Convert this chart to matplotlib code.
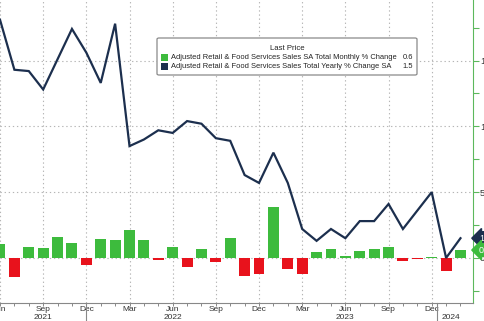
import matplotlib
matplotlib.use("Agg")
import matplotlib.pyplot as plt
from matplotlib.patches import Rectangle, FancyBboxPatch

# ---- data (Jun 2021 .. Feb 2024, monthly) ----
months = ["Jun 2021", "Jul 2021", "Aug 2021", "Sep 2021", "Oct 2021", "Nov 2021", "Dec 2021",
          "Jan 2022", "Feb 2022", "Mar 2022", "Apr 2022", "May 2022", "Jun 2022", "Jul 2022",
          "Aug 2022", "Sep 2022", "Oct 2022", "Nov 2022", "Dec 2022", "Jan 2023", "Feb 2023",
          "Mar 2023", "Apr 2023", "May 2023", "Jun 2023", "Jul 2023", "Aug 2023", "Sep 2023",
          "Oct 2023", "Nov 2023", "Dec 2023", "Jan 2024", "Feb 2024"]
mom = [1.07, -1.47, 0.86, 0.74, 1.62, 1.14, -0.53,
       1.45, 1.40, 2.13, 1.35, -0.15, 0.86, -0.66,
       0.71, -0.28, 1.55, -1.35, -1.22, 3.86, -0.84,
       -1.22, 0.48, 0.69, 0.15, 0.56, 0.71, 0.81,
       -0.23, -0.05, 0.05, -1.02, 0.6]
yoy = [18.1, 14.3, 14.2, 12.8, 15.1, 17.4, 15.6,
       13.3, 17.8, 8.5, 9.0, 9.7, 9.5, 10.4,
       10.2, 9.1, 8.9, 6.3, 5.7, 8.0, 5.7,
       2.2, 1.3, 2.2, 1.5, 2.8, 2.8, 4.1,
       2.2, 3.6, 5.0, 0.0, 1.5]
tick_idx = [0, 3, 6, 9, 12, 15, 18, 21, 24, 27, 30]
tick_labels = ["Jun", "Sep", "Dec", "Mar", "Jun", "Sep", "Dec", "Mar", "Jun", "Sep", "Dec"]
year_pos = [3, 12, 24, 31.35]
year_labels = ["2021", "2022", "2023", "2024"]
year_sep = [6, 30.35]
legend_labels = ["Adjusted Retail & Food Services Sales SA Total Monthly % Change",
                 "Adjusted Retail & Food Services Sales Total Yearly % Change SA"]
last_mom = "0.6"
last_yoy = "1.5"

GREEN = "#3dbb3d"
RED = "#e8121c"
NAVY = "#1c2f4e"
W, H = 485, 321
FONT = ["Liberation Sans", "DejaVu Sans"]

fig = plt.figure(figsize=(W / 100, H / 100), dpi=100)
fig.patch.set_facecolor("white")
ax = fig.add_axes([0, 1 - 302.7 / H, 473 / W, 302.7 / H])
ax.set_facecolor("white")

x = list(range(len(months)))
colors = [GREEN if v >= 0 else RED for v in mom]
ax.bar(x, mom, width=0.76, color=colors, zorder=2)
ax.plot(x, yoy, color=NAVY, lw=1.6, zorder=3, solid_joinstyle="miter")

ax.set_xlim(0.317, 32.87)
ax.set_ylim(-3.40, 19.6)

# grid
for t in tick_idx:
    ax.axvline(t, color="#b5b5b5", lw=0.8, ls=(0, (1.2, 2.5)), zorder=1)
for v in [0, 5, 10, 15]:
    ax.axhline(v, color="#b5b5b5", lw=0.8, ls=(0, (1.2, 2.5)), zorder=1)

# spines
for s in ["top", "left"]:
    ax.spines[s].set_visible(False)
ax.spines["right"].set_color("#5cb85c")
ax.spines["right"].set_linewidth(0.8)
ax.spines["bottom"].set_color("#888888")
ax.spines["bottom"].set_linewidth(0.8)

# y axis on right
ax.yaxis.tick_right()
ax.set_yticks([0, 5, 10, 15])
ax.set_yticks([-2.5, 2.5, 7.5, 12.5, 17.5], minor=True)
ax.set_yticklabels(["0", "5", "10", "15"], family=FONT, fontsize=6.8, color="#333333")
ax.tick_params(axis="y", which="both", direction="out", length=4, width=0.8,
               color="#5cb85c", pad=1)

# x axis
ax.set_xticks(x, minor=True)
ax.set_xticks(tick_idx)
ax.set_xticklabels(tick_labels, family=FONT, fontsize=6.0, color="#333333")
ax.tick_params(axis="x", which="both", direction="out", length=2, width=0.7,
               color="#888888", pad=0.3)
for xp, lab in zip(year_pos, year_labels):
    ax.text(xp, -0.036, lab, transform=ax.get_xaxis_transform(), ha="center", va="top",
            family=FONT, fontsize=6.0, color="#333333", clip_on=False)
for xs in year_sep:
    ax.plot([xs, xs], [0, -0.1], transform=ax.get_xaxis_transform(), color="#888888",
            lw=0.8, clip_on=False)

# last value badges
for val, yv, col in [(last_yoy, yoy[-1], NAVY), (last_mom, mom[-1], GREEN)]:
    ax.annotate(val, xy=(1.0, yv), xycoords=("axes fraction", "data"),
                xytext=(4.2, 0), textcoords="offset points", ha="left", va="center",
                fontsize=6.5, color="white", family=FONT,
                bbox=dict(boxstyle="larrow,pad=0.22", fc=col, ec=col), annotation_clip=False)

# legend box (manual, in pixel coords from top-left)
def fx(px):
    return px / W

def fy(py):
    return 1 - py / H

box = FancyBboxPatch((fx(157), fy(75)), fx(417) - fx(157), fy(38) - fy(75),
                     boxstyle="round,pad=0,rounding_size=0.004", transform=fig.transFigure,
                     fc="white", ec="#8a8a8a", lw=0.9, zorder=10)
fig.add_artist(box)
fig.text(fx(287), fy(48), "Last Price", ha="center", va="center", family=FONT,
         fontsize=5.6, color="#222222", zorder=11)
rows = [(legend_labels[0], last_mom, GREEN, 57.5), (legend_labels[1], last_yoy, NAVY, 66.5)]
for lab, val, col, yy in rows:
    fig.add_artist(Rectangle((fx(161), fy(yy + 3.5)), fx(7), 7 / H, transform=fig.transFigure,
                             fc=col, ec="none", zorder=11))
    fig.text(fx(171), fy(yy), lab, ha="left", va="center", family=FONT, fontsize=5.4,
             color="#222222", zorder=11)
    fig.text(fx(413), fy(yy), val, ha="right", va="center", family=FONT, fontsize=5.4,
             color="#222222", zorder=11)

fig.savefig("out.png", dpi=100, facecolor="white")
